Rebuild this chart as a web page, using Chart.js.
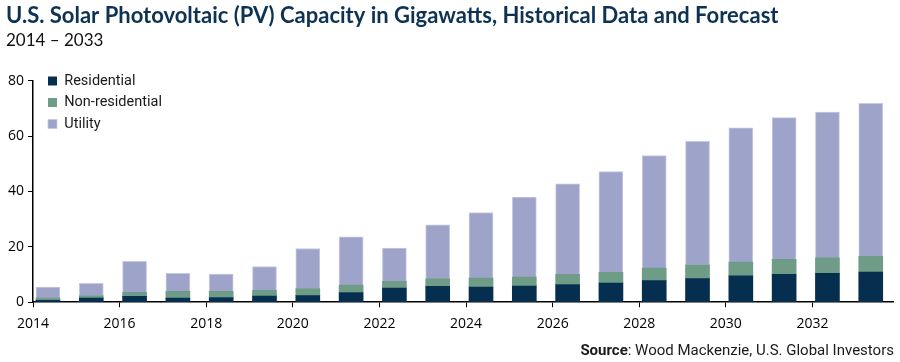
<!DOCTYPE html>
<html>
<head>
<meta charset="utf-8">
<script src="https://cdn.jsdelivr.net/npm/chart.js@4.4.1/dist/chart.umd.min.js"></script>
<style>
  body { margin: 0; background: #fff; }
  #wrap { position: relative; width: 900px; height: 362px; }
  #src {
    position: absolute; right: 6px; top: 341px;
    font: 15px Roboto, sans-serif; color: #1a1a1a; white-space: nowrap;
  }
  #src b { font-weight: 700; }
</style>
</head>
<body>
<div id="wrap">
  <canvas id="pvChart"></canvas>
  <div id="src"><b>Source</b>: Wood Mackenzie, U.S. Global Investors</div>
</div>
<script>
// values, in GW
var years = [2014, 2015, 2016, 2017, 2018, 2019, 2020, 2021, 2022, 2023,
             2024, 2025, 2026, 2027, 2028, 2029, 2030, 2031, 2032, 2033];
var residential = [0.7, 1.5, 2.1, 1.5, 1.7, 2.2, 2.4, 3.5, 5.1, 5.7,
                   5.5, 5.8, 6.4, 6.9, 7.8, 8.5, 9.5, 10.1, 10.4, 10.9];
var nonResidential = [0.8, 0.9, 1.5, 2.4, 2.2, 2.1, 2.5, 2.7, 2.4, 2.7,
                      3.2, 3.3, 3.7, 3.9, 4.5, 5.0, 5.0, 5.4, 5.6, 5.7];
var utility = [4.0, 4.4, 11.2, 6.5, 6.3, 8.6, 14.5, 17.4, 12.1, 19.6,
               23.7, 28.9, 32.7, 36.4, 40.7, 44.6, 48.5, 51.2, 52.7, 55.3];
var yTicks = [0, 20, 40, 60, 80];

// bars sit a bit right of the year tick (date axis in the original)
var barShift = 0.346;

function toPoints(arr) {
  return arr.map(function (v, i) { return { x: years[i] + barShift, y: v }; });
}

// the legend lives inside the plot, put it where the original has it
// (vertical legends get top = 0 from Chart.js, so set it from the chart area)
var legendNudge = {
  id: 'legendNudge',
  afterLayout: function (chart) {
    var lg = chart.legend;
    if (!lg) return;
    var w = lg.width, h = lg.height;
    lg.left = chart.chartArea.left + 8;
    lg.top = chart.chartArea.top - 14;
    lg.right = lg.left + w;
    lg.bottom = lg.top + h;
  }
};

var ctx = document.getElementById('pvChart').getContext('2d');
var pvChart = new Chart(ctx, {
  type: 'bar',
  data: {
    datasets: [
      { label: 'Residential', data: toPoints(residential), backgroundColor: '#062e4e' },
      { label: 'Non-residential', data: toPoints(nonResidential), backgroundColor: '#6e9c87' },
      {
        label: 'Utility', data: toPoints(utility), backgroundColor: '#9ea4c9',
        borderColor: '#c6c9e2', borderWidth: { top: 1, left: 1, right: 1, bottom: 0 }, borderSkipped: false
      }
    ]
  },
  options: {
    responsive: true,
    maintainAspectRatio: false,
    animation: false,
    barThickness: 24,
    layout: { padding: { left: 6, right: 7, top: 0, bottom: 22 } },
    scales: {
      x: {
        type: 'linear',
        stacked: true,
        offset: false,
        min: 2014,
        max: 2033.86,
        grid: { drawOnChartArea: false, drawTicks: true, tickLength: 5, color: '#000', lineWidth: 1, offset: false },
        border: { display: true, color: '#000', width: 1.5 },
        ticks: {
          stepSize: 2,
          includeBounds: false,
          maxRotation: 0,
          padding: 8,
          color: '#000',
          font: { family: 'Open Sans', size: 14 },
          callback: function (v) { return String(v); }
        }
      },
      y: {
        stacked: true,
        min: 0,
        max: 80,
        afterFit: function (s) { s.width = 27; },
        afterBuildTicks: function (s) { s.ticks = yTicks.map(function (v) { return { value: v }; }); },
        grid: { drawOnChartArea: false, drawTicks: true, tickLength: 5, color: '#000', lineWidth: 1 },
        border: { display: true, color: '#000', width: 1.5 },
        ticks: {
          padding: 4,
          color: '#000',
          font: { family: 'Open Sans', size: 14 }
        }
      }
    },
    plugins: {
      title: {
        display: true,
        text: 'U.S. Solar Photovoltaic (PV) Capacity in Gigawatts, Historical Data and Forecast',
        align: 'start',
        color: '#0d3253',
        font: { family: 'Lato', size: 22, weight: 'bold', lineHeight: 1.2 },
        padding: { top: 3, bottom: 0 }
      },
      subtitle: {
        display: true,
        text: '2014 \u2013 2033',
        align: 'start',
        color: '#111',
        font: { family: 'Lato', size: 17, weight: 'normal', lineHeight: 1.2 },
        padding: { top: 1, bottom: 30 }
      },
      legend: {
        position: 'chartArea',
        align: 'start',
        labels: {
          boxWidth: 9,
          boxHeight: 9,
          padding: 7,
          color: '#1a1a1a',
          font: { family: 'Roboto', size: 14.5 }
        }
      },
      tooltip: { enabled: false }
    }
  },
  plugins: [legendNudge]
});
</script>
</body>
</html>
